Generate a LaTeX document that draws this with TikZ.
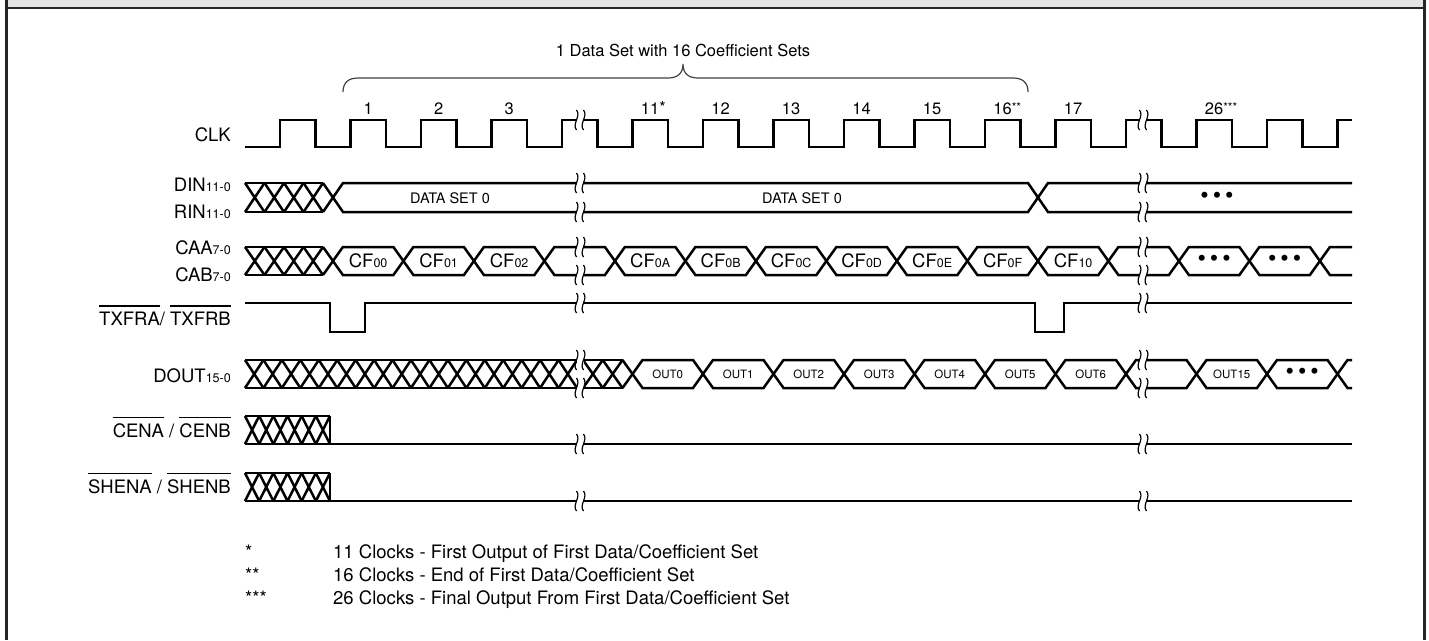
\documentclass[tikz,border=0pt]{standalone}
\usepackage{fontspec}
\setmainfont{TeX Gyre Heros}

\def\ovl#1{\setbox0\hbox{#1}\rlap{\rule[\dimexpr\ht0+5pt\relax]{\wd0}{1.1pt}}\box0\relax}
\def\lblsize{\fontsize{18.5}{20}\selectfont}
\def\subsize{\fontsize{12.5}{14}\selectfont}
\def\numsize{\fontsize{16.5}{18}\selectfont}
\def\dsize{\fontsize{14.5}{16}\selectfont}
\def\outsize{\fontsize{11.5}{13}\selectfont}
\def\notesize{\fontsize{18.5}{20}\selectfont}
\def\starsize{\fontsize{12}{12}\selectfont}
\def\dotsize{\fontsize{24}{24}\selectfont}

\tikzset{
  sig/.style={line width=2.5pt},
  brkline/.style={line width=1.2pt},
  lbl/.style={anchor=base east, inner sep=0pt, font=\lblsize},
  clkno/.style={anchor=base, inner sep=0pt, font=\numsize},
  cf/.style={inner sep=0pt, font=\lblsize},
  outlbl/.style={inner sep=0pt, font=\outsize},
  dots/.style={inner sep=0pt, font=\dotsize},
  note/.style={anchor=base west, inner sep=0pt, font=\notesize},
}

% bus pieces: (x1,x2)(ytop,ybot)
\def\hexbus(#1,#2)(#3,#4){\draw[sig] (#1,{(#3+#4)/2}) -- ({#1+10},#3) -- ({#2-10},#3) -- (#2,{(#3+#4)/2}) -- ({#2-10},#4) -- ({#1+10},#4) -- cycle;}
\def\openbus(#1,#2)(#3,#4){\draw[sig] (#2,#3) -- ({#1+10},#3) -- (#1,{(#3+#4)/2}) -- ({#1+10},#4) -- (#2,#4);}
\def\hatch(#1,#2)(#3,#4)#5{%
  \draw[sig] (#1,#3) -- (#2,#3) (#1,#4) -- (#2,#4);
  \pgfmathsetmacro\hw{(#2-#1)/#5}
  \foreach \i in {1,...,#5}{\draw[sig] ({#1+(\i-1)*\hw},#3) -- ({#1+\i*\hw},#4) ({#1+(\i-1)*\hw},#4) -- ({#1+\i*\hw},#3);}}
% break mark on a line at (x,y)
\def\brk(#1,#2){%
  \fill[white] ({#1-3.5},{#2-4}) rectangle ({#1+3.5},{#2+4});
  \draw[brkline] ({#1-3.5},{#2-10}) .. controls ({#1+1.5},{#2-4}) and ({#1-8.5},{#2+4}) .. ({#1-3.5},{#2+10});
  \draw[brkline] ({#1+3.5},{#2-10}) .. controls ({#1+8.5},{#2-4}) and ({#1-1.5},{#2+4}) .. ({#1+3.5},{#2+10});}

\begin{document}
\begin{tikzpicture}[x=1pt, y=-1pt]
  \useasboundingbox (0,0) rectangle (1429,640);

  % frame
  \fill[black!10] (7,0) rectangle (1423,7);
  \draw[line width=2.5pt, black!85] (6.5,0) -- (6.5,640) (6.5,8) -- (1424.5,8) (1424.5,0) -- (1424.5,640);

  % brace
  \draw[line width=1.2pt, black!75] (343,92) .. controls (343,83) and (348,78) .. (358,78) -- (668,78)
    .. controls (677,78) and (683,74) .. (683,64) .. controls (683,74) and (689,78) .. (698,78) -- (1013,78)
    .. controls (1023,78) and (1028,83) .. (1028,92);
  \node[clkno] (title) at (683,56) {1 Data Set with 16 Coefficient Sets};

  % signal names
  \node[lbl] (clk) at (231,141) {CLK};
  \node[lbl] (din) at (231,191.5) {DIN{\subsize 11-0}};
  \node[lbl] (rin) at (231,218.5) {RIN{\subsize 11-0}};
  \node[lbl] (caa) at (231,254.5) {CAA{\subsize 7-0}};
  \node[lbl] (cab) at (231,281.5) {CAB{\subsize 7-0}};
  \node[lbl] (txfr) at (231,325) {\ovl{TXFRA}/ \ovl{TXFRB}};
  \node[lbl] (dout) at (231,382) {DOUT{\subsize 15-0}};
  \node[lbl] (cen) at (231,437) {\ovl{CENA} / \ovl{CENB}};
  \node[lbl] (shen) at (231,493) {\ovl{SHENA} / \ovl{SHENB}};

  % CLK
  \draw[sig] (245,147) \foreach \k in {0,...,14} { -- ({280+70.5*\k},147) -- ({280+70.5*\k},120)
    -- ({315.25+70.5*\k},120) -- ({315.25+70.5*\k},147) } -- (1337.5,147) -- (1337.5,120) -- (1352,120);
  \foreach \k/\n in {1/1,2/2,3/3,6/12,7/13,8/14,9/15,11/17}
    \node[clkno] (c\n) at ({297.6+70.5*\k},114) {\n};
  \node[clkno] (c11) at ({297.6+70.5*5},114) {11\rlap{\raisebox{1pt}{*}}};
  \node[clkno] (c16) at ({297.6+70.5*10},114) {16\rlap{\starsize\raisebox{3pt}{**}}};
  \node[clkno] (c26) at ({297.6+70.5*13},114) {26\rlap{\starsize\raisebox{3pt}{***}}};

  % DIN / RIN
  \hatch(245,323)(183,212){4}
  \draw[sig] (323,183) -- (333,197.5) -- (323,212);
  \hexbus(333,1038)(183,212)
  \openbus(1038,1352)(183,212)
  \node[inner sep=0pt, font=\dsize] (ds0a) at (450,198) {DATA SET 0};
  \node[inner sep=0pt, font=\dsize] (ds0b) at (802,198) {DATA SET 0};
  \node[dots] (dindots) at (1217,197.5) {•\kern4pt•\kern4pt•};

  % CAA / CAB
  \hatch(245,323)(247,275){4}
  \draw[sig] (323,247) -- (333,261) -- (323,275);
  \foreach \k in {1,...,14} {
    \pgfmathsetmacro\xa{262.4+70.5*\k}
    \pgfmathsetmacro\xb{\xa+70.5}
    \hexbus(\xa,\xb)(247,275)
  }
  \openbus(1319.9,1352)(247,275)
  \foreach \k/\s in {1/00,2/01,3/02,5/0A,6/0B,7/0C,8/0D,9/0E,10/0F,11/10}
    \node[cf] (cf\s) at ({297.65+70.5*\k},261) {CF{\subsize\s}};
  \node[dots] (caadots1) at ({297.65+70.5*13},261) {•\kern4pt•\kern4pt•};
  \node[dots] (caadots2) at ({297.65+70.5*14},261) {•\kern4pt•\kern4pt•};

  % TXFRA / TXFRB
  \draw[sig] (245,303) -- (330,303) -- (330,332) -- (365,332) -- (365,303) -- (1035,303)
    -- (1035,332) -- (1064,332) -- (1064,303) -- (1352,303);

  % DOUT
  \hatch(245,577)(360,388){18}
  \hatch(583,622.5)(360,388){2}
  \draw[sig] (577,360) -- (583,360) (577,388) -- (583,388);
  \draw[sig] (622.5,360) -- (632.5,374) -- (622.5,388);
  \foreach \k in {5,...,14} {
    \pgfmathsetmacro\xa{280+70.5*\k}
    \pgfmathsetmacro\xb{\xa+70.5}
    \hexbus(\xa,\xb)(360,388)
  }
  \openbus(1337.5,1352)(360,388)
  \foreach \k/\s in {5/0,6/1,7/2,8/3,9/4,10/5,11/6,13/15}
    \node[outlbl] (out\s) at ({315.25+70.5*\k},374) {OUT\s};
  \node[dots] (doutdots) at ({315.25+70.5*14},374) {•\kern4pt•\kern4pt•};

  % CENA / CENB
  \hatch(245,330)(416,444){6}
  \draw[sig] (330,416) -- (330,444) -- (1352,444);

  % SHENA / SHENB
  \hatch(245,330)(473,501){6}
  \draw[sig] (330,473) -- (330,501) -- (1352,501);

  % breaks
  \foreach \x in {580,1143} {
    \foreach \y in {120,183,212,247,275,303,360,388,444,501} {\brk(\x,\y)}
  }

  % notes
  \node[note] (st1) at (245,558) {*};
  \node[note] (st2) at (245,581.5) {**};
  \node[note] (st3) at (245,604.5) {***};
  \node[note] (nt1) at (333,558) {11 Clocks - First Output of First Data/Coefficient Set};
  \node[note] (nt2) at (333,581.5) {16 Clocks - End of First Data/Coefficient Set};
  \node[note] (nt3) at (333,604.5) {26 Clocks - Final Output From First Data/Coefficient Set};
\end{tikzpicture}
\end{document}
